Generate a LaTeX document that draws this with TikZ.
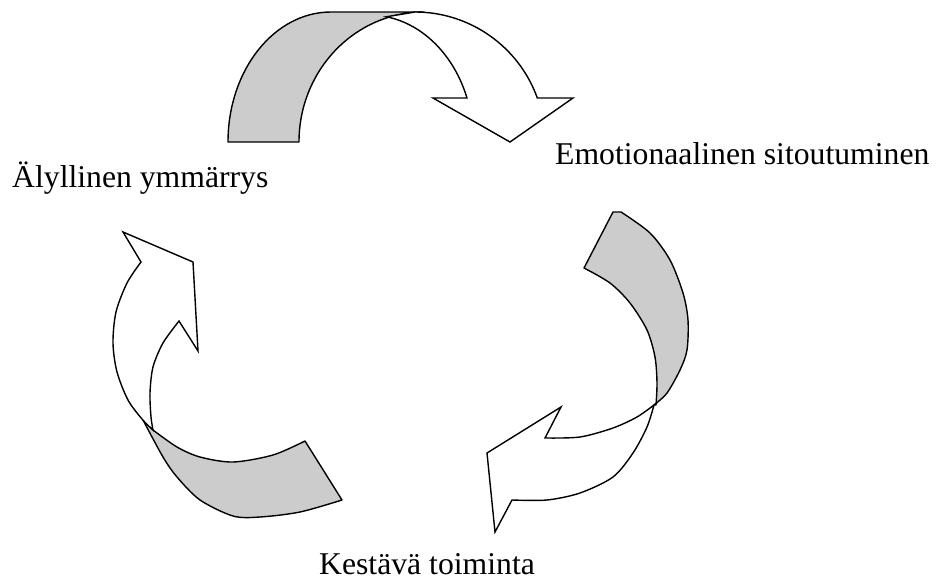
\documentclass[tikz,border=0pt]{standalone}
\usepackage{fontspec}
\setmainfont{Liberation Serif}
\definecolor{backside}{gray}{0.8}

\begin{document}
\begin{tikzpicture}[
  x=1pt, y=-1pt,
  lbl/.style={anchor=base west, inner sep=0pt, font=\fontsize{31.7}{38}\selectfont},
  back/.style={draw=black, fill=backside, line width=1.4pt, line join=round},
  front/.style={draw=black, fill=white, line width=1.4pt},
]
\useasboundingbox (0,0) rectangle (938,581);

%--- Ylempi nuoli ---
\path[back] (228,142) arc[start angle=180, end angle=270, x radius=103, y radius=130]
  -- (424,12) arc[start angle=270, end angle=180, x radius=125, y radius=130] -- cycle;
\path[front] (467,98) arc[start angle=-20.3, end angle=-80.6, x radius=104, y radius=127]
  -- (415,12) arc[start angle=-90, end angle=-19.8, x radius=130, y radius=130]
  -- (573,98) -- (510,142) -- (433,98) -- cycle;

%--- Oikea nuoli ---
\path[back] (584,268) -- (613,212)
  -- plot[smooth] coordinates {(621,212) (650,233) (670,260) (683,293) (688,320) (687,350) (680,370) (667,393) (654,405)}
  -- plot[smooth] coordinates {(656,405) (657,383) (655,357) (647,330) (630,303) (610,283) (584,268)} -- cycle;
\path[front] plot[smooth] coordinates {(654,405) (637,417) (613,428) (580,437) (545,438)}
  -- (561,407) -- (487,453) -- (495,532) -- (512,500)
  -- plot[smooth] coordinates {(512,500) (547,500) (580,493) (613,477) (633,453) (647,427) (654,405)} -- cycle;

%--- Vasen nuoli ---
\path[back] (305,441) -- (342,500)
  -- plot[smooth] coordinates {(342,500) (300,512) (260,517) (233,516) (200,500) (177,477) (163,457) (143,420)}
  -- (153,430)
  -- plot[smooth] coordinates {(153,430) (177,447) (200,457) (233,462) (273,455) (305,441)} -- cycle;
\path[front] (141,262) -- (123,232) -- (193,262) -- (198,351) -- (179,321)
  -- plot[smooth] coordinates {(179,321) (163,343) (153,367) (150,393) (151,417) (153,430)}
  -- plot[smooth] coordinates {(153,430) (142,419) (128,400) (117,372) (113,343) (116,312) (127,283) (141,262)} -- cycle;

%--- Tekstit ---
\node[lbl] (alyl) at (12,187) {Älyllinen ymmärrys};
\node[lbl] (emot) at (555,164) {Emotionaalinen sitoutuminen};
\node[lbl] (kest) at (319,574) {Kestävä toiminta};

\end{tikzpicture}
\end{document}
